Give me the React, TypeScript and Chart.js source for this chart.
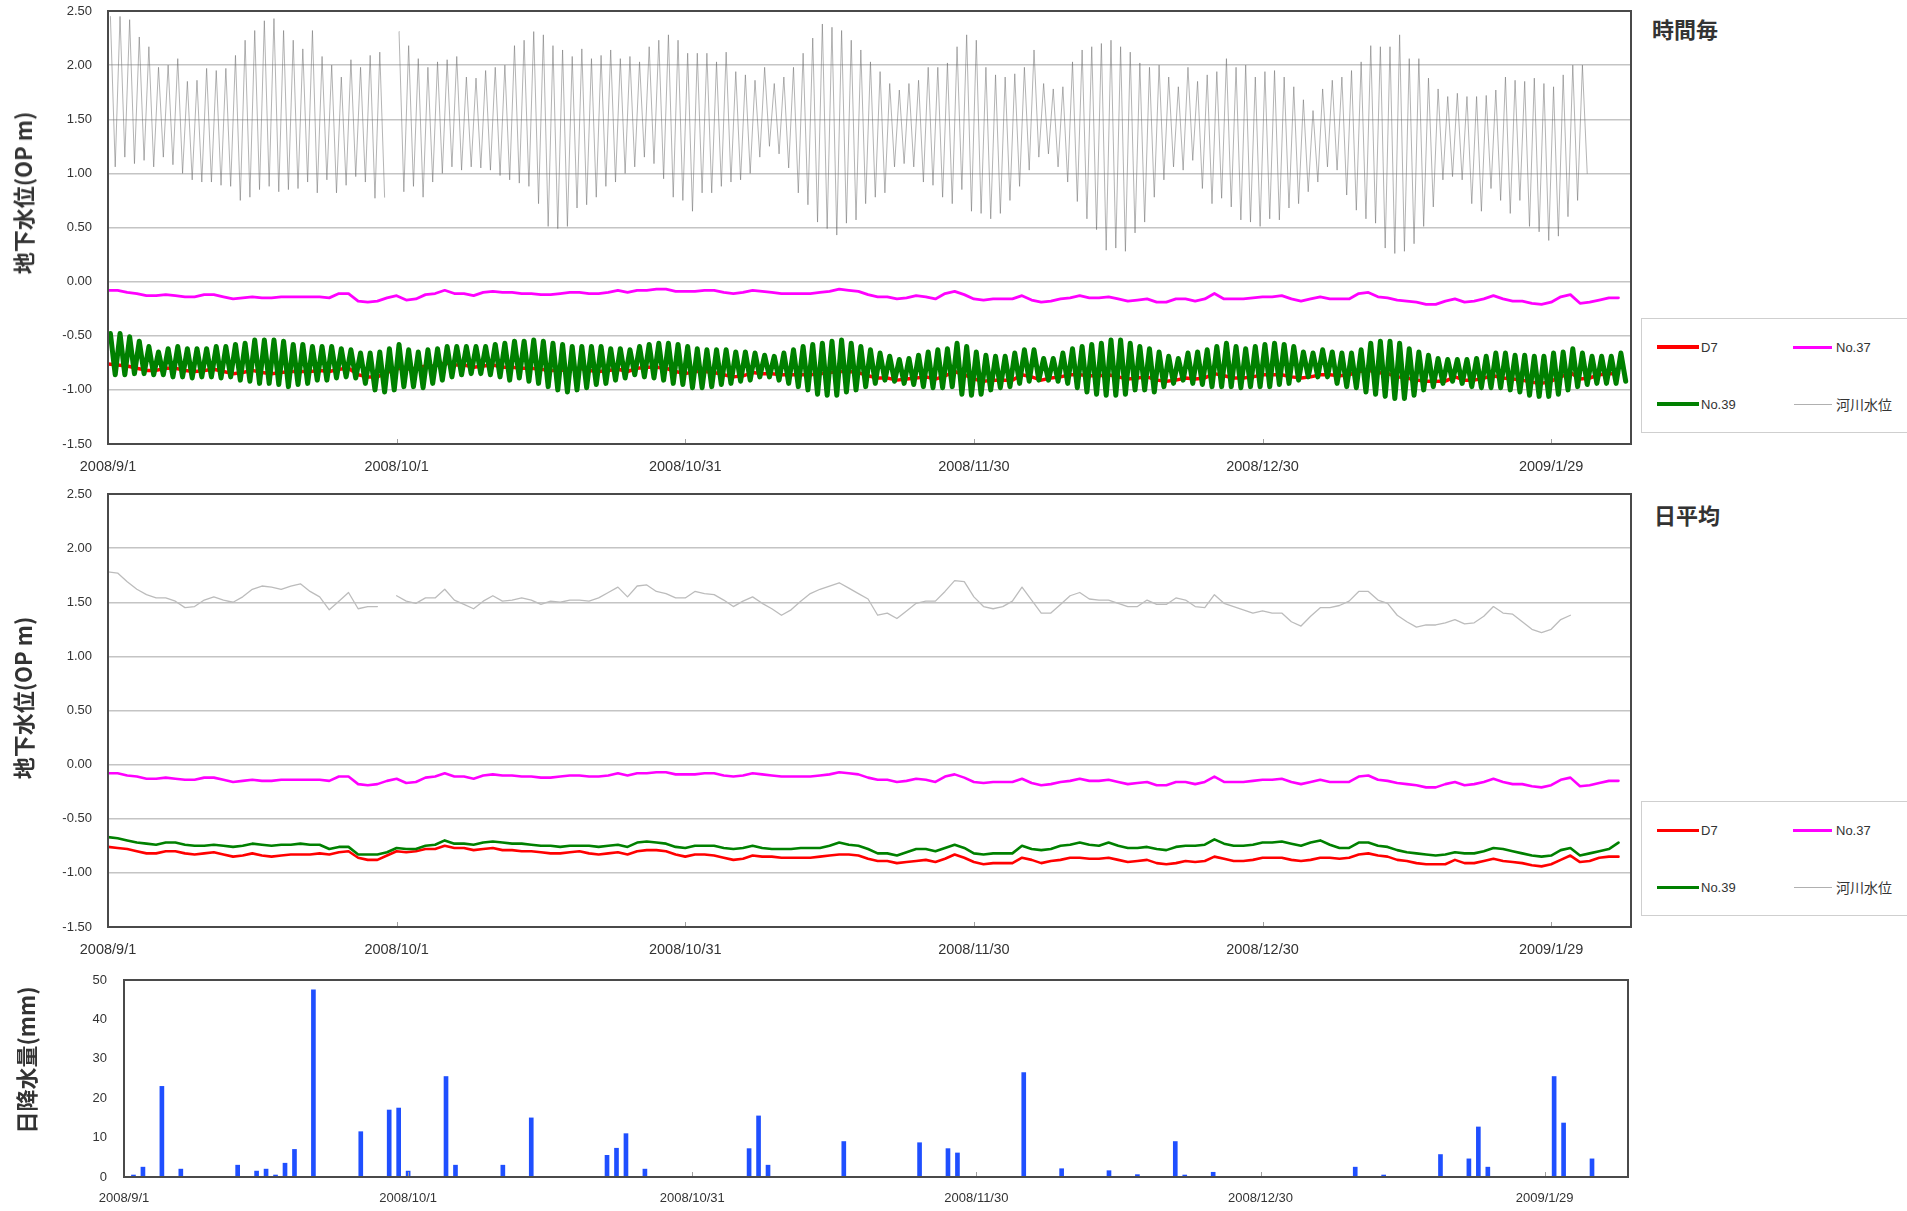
import React, { useEffect, useRef } from 'react';
import { Chart, registerables } from 'chart.js';

Chart.register(...registerables);

// ---------- axis ticks ----------
const tickDays = [0, 30, 60, 90, 120, 150];
const tickLabels = ['2008/9/1', '2008/10/1', '2008/10/31', '2008/11/30', '2008/12/30', '2009/1/29'];

const seriesNames = ['D7', 'No.37', 'No.39', '河川水位'];

// ---------- hourly (時間毎): river tidal daily high / low envelope (day 0 = 2008/9/1) ----------
const riverHigh = [
  2.45, 2.45, 2.42, 2.26, 2.17, 1.98, 2.0, 2.06, 1.85, 1.86,
  1.97, 1.95, 1.97, 2.09, 2.23, 2.32, 2.41, 2.43, 2.32, 2.23,
  2.15, 2.32, 2.08, 2.0, 1.89, 2.05, 1.98, 2.09, 2.12, null,
  2.31, 2.18, 2.06, 1.98, 2.03, 2.05, 2.08, 1.89, 1.88, 1.95,
  1.98, 2.0, 2.18, 2.23, 2.31, 2.28, 2.18, 2.14, 2.08, 2.15,
  2.06, 2.09, 2.14, 2.06, 2.08, 2.03, 2.17, 2.23, 2.28, 2.23,
  2.11, 2.11, 2.11, 2.03, 2.12, 1.94, 1.91, 1.86, 1.98, 1.83,
  1.89, 1.98, 2.11, 2.25, 2.38, 2.35, 2.32, 2.23, 2.14, 2.03,
  1.94, 1.83, 1.77, 1.83, 1.86, 1.98, 1.98, 2.02, 2.17, 2.28,
  2.23, 1.98, 1.91, 1.89, 1.92, 1.98, 2.14, 1.83, 1.78, 1.8,
  2.03, 2.14, 2.17, 2.2, 2.23, 2.17, 2.12, 2.02, 1.98, 2.0,
  1.89, 1.8, 1.98, 1.85, 1.91, 1.94, 2.06, 1.98, 2.0, 1.89,
  1.94, 1.95, 1.89, 1.8, 1.68, 1.58, 1.78, 1.86, 1.89, 1.95,
  2.03, 2.18, 2.17, 2.17, 2.28, 2.06, 2.06, 1.88, 1.78, 1.71,
  1.74, 1.71, 1.71, 1.72, 1.77, 1.89, 1.86, 1.85, 1.88, 1.83,
  1.8, 1.91, 2.0, 2.0,
];
const riverLow = [
  1.06, 1.15, 1.09, 1.12, 1.06, 1.15, 1.08, 1.0, 0.94, 0.92,
  0.92, 0.89, 0.88, 0.75, 0.78, 0.85, 0.88, 0.83, 0.85, 0.86,
  0.92, 0.82, 0.94, 0.82, 0.89, 0.97, 0.92, 0.77, 0.78, null,
  0.83, 0.88, 0.78, 0.92, 1.0, 1.06, 1.03, 1.06, 1.05, 1.03,
  0.98, 0.94, 0.91, 0.88, 0.72, 0.51, 0.49, 0.51, 0.68, 0.71,
  0.78, 0.88, 0.92, 1.0, 1.06, 1.15, 1.09, 0.95, 0.78, 0.75,
  0.65, 0.82, 0.82, 0.88, 0.92, 0.94, 1.0, 1.15, 1.25, 1.18,
  1.05, 0.82, 0.71, 0.55, 0.49, 0.43, 0.54, 0.57, 0.72, 0.78,
  0.82, 1.06, 1.09, 1.06, 0.92, 0.89, 0.78, 0.72, 0.85, 0.65,
  0.63, 0.58, 0.63, 0.75, 0.88, 1.03, 1.15, 1.18, 1.06, 0.92,
  0.74, 0.58, 0.48, 0.29, 0.31, 0.28, 0.45, 0.55, 0.78, 0.94,
  1.06, 1.03, 1.12, 0.86, 0.72, 0.77, 0.69, 0.57, 0.55, 0.51,
  0.58, 0.57, 0.68, 0.72, 0.83, 0.92, 1.06, 1.03, 0.8, 0.66,
  0.58, 0.54, 0.31, 0.26, 0.28, 0.35, 0.51, 0.69, 0.94, 0.97,
  0.94, 0.72, 0.65, 0.86, 0.75, 0.63, 0.75, 0.51, 0.46, 0.38,
  0.42, 0.6, 0.75, 1.0,
];

// No.39 hourly: daily high / low envelope
const no39High = [
  -0.48, -0.48, -0.51, -0.55, -0.6, -0.65, -0.62, -0.6, -0.62, -0.62,
  -0.62, -0.6, -0.6, -0.58, -0.57, -0.54, -0.54, -0.54, -0.55, -0.58,
  -0.58, -0.6, -0.6, -0.6, -0.62, -0.63, -0.66, -0.66, -0.65, -0.62,
  -0.58, -0.63, -0.65, -0.63, -0.62, -0.6, -0.6, -0.6, -0.6, -0.6,
  -0.58, -0.57, -0.55, -0.55, -0.54, -0.55, -0.57, -0.58, -0.6, -0.6,
  -0.6, -0.6, -0.62, -0.62, -0.63, -0.6, -0.58, -0.57, -0.57, -0.58,
  -0.6, -0.62, -0.63, -0.63, -0.63, -0.65, -0.65, -0.66, -0.68, -0.69,
  -0.66, -0.63, -0.6, -0.58, -0.57, -0.55, -0.54, -0.57, -0.6, -0.63,
  -0.66, -0.69, -0.72, -0.71, -0.68, -0.65, -0.63, -0.62, -0.57, -0.6,
  -0.65, -0.68, -0.69, -0.69, -0.66, -0.63, -0.63, -0.71, -0.71, -0.66,
  -0.62, -0.6, -0.58, -0.57, -0.54, -0.54, -0.57, -0.6, -0.62, -0.65,
  -0.69, -0.71, -0.66, -0.65, -0.63, -0.6, -0.57, -0.6, -0.62, -0.6,
  -0.58, -0.57, -0.58, -0.6, -0.65, -0.66, -0.63, -0.65, -0.66, -0.66,
  -0.63, -0.57, -0.55, -0.55, -0.57, -0.62, -0.65, -0.68, -0.71, -0.72,
  -0.72, -0.72, -0.71, -0.69, -0.66, -0.66, -0.68, -0.68, -0.69, -0.69,
  -0.66, -0.65, -0.62, -0.66, -0.69, -0.69, -0.69, -0.66,
];
const no39Low = [
  -0.86, -0.86, -0.85, -0.85, -0.86, -0.86, -0.88, -0.88, -0.89, -0.88,
  -0.88, -0.89, -0.88, -0.91, -0.92, -0.94, -0.94, -0.95, -0.97, -0.95,
  -0.94, -0.91, -0.91, -0.89, -0.88, -0.89, -0.94, -1.0, -1.02, -1.0,
  -0.97, -0.97, -0.98, -0.94, -0.91, -0.88, -0.86, -0.85, -0.85, -0.86,
  -0.88, -0.91, -0.89, -0.92, -0.94, -0.97, -1.0, -1.02, -1.0, -0.98,
  -0.95, -0.94, -0.91, -0.89, -0.86, -0.88, -0.89, -0.91, -0.94, -0.95,
  -0.98, -0.98, -0.97, -0.95, -0.94, -0.92, -0.91, -0.88, -0.88, -0.91,
  -0.94, -0.97, -1.0, -1.04, -1.05, -1.05, -1.02, -1.0, -0.97, -0.94,
  -0.91, -0.92, -0.94, -0.95, -0.97, -0.98, -0.98, -0.97, -1.04, -1.05,
  -1.04, -1.0, -0.98, -0.97, -0.94, -0.92, -0.91, -0.91, -0.92, -0.94,
  -0.98, -1.02, -1.04, -1.05, -1.05, -1.04, -1.0, -1.0, -1.02, -0.97,
  -0.94, -0.91, -0.94, -0.95, -0.97, -0.97, -0.97, -0.98, -0.97, -0.97,
  -0.97, -0.95, -0.94, -0.91, -0.88, -0.88, -0.88, -0.94, -0.97, -0.98,
  -1.02, -1.04, -1.06, -1.08, -1.08, -1.05, -1.0, -0.97, -0.94, -0.92,
  -0.94, -0.97, -0.98, -0.98, -0.98, -1.0, -1.02, -1.05, -1.06, -1.06,
  -1.04, -1.0, -0.97, -0.95, -0.94, -0.94, -0.94, -0.92,
];

// ---------- daily averages (日平均) ----------
const d7Daily = [
  -0.76, -0.77, -0.78, -0.8, -0.82, -0.82, -0.8, -0.8, -0.82, -0.83,
  -0.82, -0.81, -0.83, -0.85, -0.84, -0.82, -0.84, -0.85, -0.84, -0.83,
  -0.83, -0.83, -0.82, -0.83, -0.81, -0.8, -0.86, -0.88, -0.88, -0.84,
  -0.8, -0.81, -0.8, -0.78, -0.78, -0.75, -0.77, -0.77, -0.79, -0.78,
  -0.77, -0.79, -0.79, -0.8, -0.8, -0.81, -0.82, -0.82, -0.81, -0.8,
  -0.82, -0.83, -0.82, -0.81, -0.83, -0.8, -0.79, -0.79, -0.8, -0.83,
  -0.85, -0.83, -0.83, -0.84, -0.86, -0.88, -0.87, -0.84, -0.85, -0.85,
  -0.86, -0.86, -0.86, -0.86, -0.85, -0.84, -0.83, -0.83, -0.84, -0.87,
  -0.89, -0.89, -0.91, -0.9, -0.89, -0.88, -0.9, -0.87, -0.83, -0.86,
  -0.9, -0.92, -0.91, -0.91, -0.91, -0.86, -0.88, -0.91, -0.89, -0.88,
  -0.86, -0.86, -0.87, -0.87, -0.86, -0.88, -0.9, -0.89, -0.88, -0.91,
  -0.92, -0.91, -0.89, -0.9, -0.89, -0.85, -0.87, -0.89, -0.89, -0.88,
  -0.86, -0.86, -0.86, -0.88, -0.89, -0.88, -0.86, -0.86, -0.87, -0.86,
  -0.83, -0.82, -0.84, -0.85, -0.88, -0.89, -0.91, -0.92, -0.92, -0.92,
  -0.88, -0.91, -0.91, -0.89, -0.87, -0.89, -0.9, -0.91, -0.93, -0.94,
  -0.92, -0.88, -0.84, -0.9, -0.89, -0.86, -0.85, -0.85,
];
const no37Daily = [
  -0.08, -0.08, -0.1, -0.11, -0.13, -0.13, -0.12, -0.13, -0.14, -0.14,
  -0.12, -0.12, -0.14, -0.16, -0.15, -0.14, -0.15, -0.15, -0.14, -0.14,
  -0.14, -0.14, -0.14, -0.15, -0.11, -0.11, -0.18, -0.19, -0.18, -0.15,
  -0.13, -0.17, -0.16, -0.12, -0.11, -0.08, -0.11, -0.11, -0.13, -0.1,
  -0.09, -0.1, -0.1, -0.11, -0.11, -0.12, -0.12, -0.11, -0.1, -0.1,
  -0.11, -0.11, -0.1, -0.08, -0.1, -0.08, -0.08, -0.07, -0.07, -0.09,
  -0.09, -0.09, -0.08, -0.08, -0.1, -0.11, -0.1, -0.08, -0.09, -0.1,
  -0.11, -0.11, -0.11, -0.11, -0.1, -0.09, -0.07, -0.08, -0.09, -0.12,
  -0.14, -0.14, -0.16, -0.15, -0.13, -0.14, -0.16, -0.11, -0.09, -0.12,
  -0.16, -0.17, -0.16, -0.16, -0.16, -0.13, -0.17, -0.19, -0.18, -0.16,
  -0.15, -0.13, -0.15, -0.15, -0.14, -0.16, -0.18, -0.17, -0.16, -0.19,
  -0.19, -0.16, -0.16, -0.18, -0.16, -0.11, -0.16, -0.16, -0.16, -0.15,
  -0.14, -0.14, -0.13, -0.16, -0.18, -0.16, -0.14, -0.16, -0.16, -0.16,
  -0.11, -0.1, -0.14, -0.15, -0.17, -0.18, -0.19, -0.21, -0.21, -0.18,
  -0.16, -0.19, -0.18, -0.16, -0.13, -0.16, -0.18, -0.18, -0.2, -0.21,
  -0.19, -0.14, -0.12, -0.2, -0.19, -0.17, -0.15, -0.15,
];
const no39Daily = [
  -0.67, -0.68, -0.7, -0.72, -0.73, -0.74, -0.72, -0.72, -0.74, -0.75,
  -0.75, -0.74, -0.75, -0.76, -0.75, -0.73, -0.74, -0.75, -0.74, -0.74,
  -0.73, -0.74, -0.74, -0.78, -0.76, -0.76, -0.83, -0.83, -0.83, -0.81,
  -0.77, -0.78, -0.78, -0.75, -0.74, -0.7, -0.73, -0.73, -0.74, -0.72,
  -0.71, -0.72, -0.73, -0.73, -0.74, -0.75, -0.75, -0.76, -0.75, -0.75,
  -0.75, -0.76, -0.75, -0.74, -0.76, -0.72, -0.71, -0.72, -0.73, -0.76,
  -0.77, -0.75, -0.75, -0.75, -0.77, -0.78, -0.77, -0.75, -0.77, -0.78,
  -0.78, -0.78, -0.77, -0.77, -0.77, -0.75, -0.72, -0.74, -0.75, -0.78,
  -0.82, -0.82, -0.84, -0.81, -0.78, -0.78, -0.8, -0.77, -0.74, -0.77,
  -0.82, -0.83, -0.82, -0.82, -0.82, -0.75, -0.78, -0.79, -0.78, -0.75,
  -0.74, -0.72, -0.74, -0.75, -0.72, -0.75, -0.77, -0.77, -0.76, -0.78,
  -0.79, -0.76, -0.75, -0.75, -0.74, -0.69, -0.73, -0.75, -0.75, -0.74,
  -0.72, -0.72, -0.71, -0.73, -0.75, -0.72, -0.7, -0.74, -0.77, -0.77,
  -0.72, -0.72, -0.75, -0.76, -0.79, -0.81, -0.82, -0.83, -0.84, -0.83,
  -0.81, -0.82, -0.82, -0.8, -0.77, -0.78, -0.8, -0.82, -0.84, -0.85,
  -0.84, -0.79, -0.77, -0.84, -0.82, -0.8, -0.78, -0.72,
];
const riverDaily = [
  1.78, 1.77, 1.69, 1.62, 1.57, 1.54, 1.54, 1.51, 1.45, 1.46,
  1.52, 1.55, 1.52, 1.5, 1.55, 1.62, 1.65, 1.64, 1.62, 1.65,
  1.67, 1.6, 1.55, 1.43, 1.51, 1.59, 1.44, 1.46, 1.46, null,
  1.56, 1.51, 1.49, 1.54, 1.54, 1.62, 1.52, 1.48, 1.44, 1.51,
  1.56, 1.51, 1.52, 1.54, 1.52, 1.48, 1.51, 1.5, 1.52, 1.52,
  1.51, 1.54, 1.59, 1.64, 1.55, 1.65, 1.66, 1.6, 1.58, 1.54,
  1.54, 1.6, 1.58, 1.57, 1.52, 1.46, 1.51, 1.55, 1.49, 1.44,
  1.38, 1.43, 1.51, 1.58, 1.62, 1.65, 1.68, 1.63, 1.58, 1.53,
  1.38, 1.4, 1.35, 1.42, 1.49, 1.51, 1.51, 1.6, 1.7, 1.69,
  1.55, 1.46, 1.44, 1.46, 1.51, 1.64, 1.52, 1.4, 1.4, 1.48,
  1.56, 1.59, 1.53, 1.52, 1.52, 1.49, 1.46, 1.46, 1.52, 1.48,
  1.48, 1.54, 1.52, 1.46, 1.45, 1.57, 1.49, 1.46, 1.43, 1.4,
  1.42, 1.4, 1.4, 1.32, 1.28, 1.37, 1.45, 1.45, 1.47, 1.51,
  1.6, 1.6, 1.52, 1.49, 1.38, 1.32, 1.27, 1.29, 1.29, 1.31,
  1.34, 1.3, 1.31, 1.37, 1.46, 1.4, 1.39, 1.32, 1.25, 1.22,
  1.25, 1.34, 1.38,
];

// ---------- daily rainfall (日降水量) ----------
const rainDay = [
  1, 2, 4, 6, 12, 14, 15, 16, 17, 18, 20, 25, 28, 29, 30, 34, 35, 40, 43, 51, 52, 53, 55,
  66, 67, 68, 76, 84, 87, 88, 95, 99, 104, 107, 111, 112, 115, 130, 133, 139, 142, 143, 144,
  151, 152, 155,
];
const rainMm = [
  0.5, 2.5, 23, 2, 3, 1.5, 2, 0.5, 3.5, 7, 47.5, 11.5, 17, 17.5, 1.5, 25.5, 3, 3, 15, 5.5, 7.3, 11, 2,
  7.2, 15.5, 3, 9, 8.7, 7.2, 6.1, 26.5, 2.1, 1.6, 0.6, 9, 0.5, 1.2, 2.5, 0.5, 5.7, 4.6, 12.7, 2.5,
  25.5, 13.7, 4.6,
];

// ---------- styling ----------
const LAT = "'Liberation Sans', Arial, sans-serif";
const CJK = "'Noto Sans CJK JP', 'Noto Sans', sans-serif";
const TXT = '#333333';
const C_D7 = '#ff0000';
const C_37 = '#ff00ff';
const C_39 = '#008000';
const C_RIV_H = 'rgba(105,105,105,0.5)';
const C_RIV_D = '#bcbcbc';
const C_RAIN = '#1f4fff';

const dailyPts = (arr: (number | null)[]) => arr.map((v, d) => ({ x: d, y: v }));
const tidalPts = (hi: (number | null)[], lo: (number | null)[]) => {
  const pts: { x: number; y: number | null }[] = [];
  hi.forEach((h, d) => {
    pts.push({ x: d + 0.25, y: h });
    pts.push({ x: d + 0.75, y: lo[d] });
  });
  return pts;
};

const boxPlugin = {
  id: 'boxFrame',
  afterDraw(chart: any) {
    const { ctx, chartArea: a } = chart;
    const xs = chart.scales.x;
    ctx.save();
    ctx.strokeStyle = '#a0a0a0';
    ctx.lineWidth = 1;
    tickDays.forEach((d) => {
      const px = Math.round(xs.getPixelForValue(d)) + 0.5;
      ctx.beginPath();
      ctx.moveTo(px, a.bottom);
      ctx.lineTo(px, a.bottom - 5);
      ctx.stroke();
    });
    ctx.strokeStyle = '#4a4a4a';
    ctx.lineWidth = 2;
    ctx.strokeRect(a.left, a.top, a.right - a.left, a.bottom - a.top);
    ctx.restore();
  },
};

const dayAxis = (max: number, height: number, pad: number, size: number) => ({
  type: 'linear',
  min: 0,
  max,
  offset: false,
  afterBuildTicks: (s: any) => {
    s.ticks = tickDays.map((v) => ({ value: v }));
  },
  ticks: {
    autoSkip: false,
    maxRotation: 0,
    minRotation: 0,
    padding: pad,
    color: TXT,
    font: { family: LAT, size },
    callback: (v: any) => {
      const i = tickDays.indexOf(Number(v));
      return i >= 0 ? tickLabels[i] : '';
    },
  },
  grid: { display: false, drawTicks: false },
  border: { display: false },
  afterFit: (s: any) => {
    s.height = height;
    s.paddingLeft = 0;
    s.paddingRight = 0;
  },
});

const levelAxis = (width: number) => ({
  type: 'linear',
  min: -1.5,
  max: 2.5,
  ticks: {
    stepSize: 0.5,
    padding: 16,
    color: TXT,
    font: { family: LAT, size: 13 },
    callback: (v: any) => Number(v).toFixed(2),
  },
  grid: { color: '#c4c4c4', lineWidth: 1.5, drawTicks: false },
  border: { display: false },
  afterFit: (s: any) => {
    s.width = width;
    s.paddingTop = 0;
    s.paddingBottom = 0;
  },
});

const lineDs = (label: string, data: any[], color: string, width: number, order: number) => ({
  label,
  data,
  borderColor: color,
  backgroundColor: color,
  borderWidth: width,
  borderJoinStyle: 'round',
  borderCapStyle: 'round',
  pointRadius: 0,
  tension: 0,
  spanGaps: false,
  fill: false,
  order,
});

const baseOpts = (padding: any) => ({
  responsive: false,
  maintainAspectRatio: false,
  animation: false,
  devicePixelRatio: 1,
  layout: { padding },
  plugins: { legend: { display: false }, tooltip: { enabled: false }, title: { display: false } },
  events: [],
});

function LegendItem(p: { x1: number; x2: number; y: number; t: number; color: string; tx: number; label: string }) {
  const cjk = /[^\x00-\x7f]/.test(p.label);
  return (
    <>
      <div
        style={{
          position: 'absolute',
          left: p.x1,
          top: p.y - p.t / 2,
          width: p.x2 - p.x1,
          height: p.t,
          background: p.color,
        }}
      />
      <div
        style={{
          position: 'absolute',
          left: p.tx,
          top: p.y,
          transform: 'translateY(-50%)',
          fontFamily: cjk ? CJK : LAT,
          fontSize: cjk ? 14 : 13,
          color: TXT,
          lineHeight: 1,
          whiteSpace: 'nowrap',
        }}
      >
        {p.label}
      </div>
    </>
  );
}

function Legend({ top, bottom, thick }: { top: number; bottom: number; thick: number }) {
  const y1 = top + 29;
  const y2 = bottom - 29;
  return (
    <>
      <div
        style={{
          position: 'absolute',
          left: 1641,
          top,
          width: 320,
          height: bottom - top,
          border: '1.5px solid #cfcfcf',
          boxSizing: 'border-box',
        }}
      />
      <LegendItem x1={1657} x2={1699} y={y1} t={thick} color={C_D7} tx={1701} label={seriesNames[0]} />
      <LegendItem x1={1793} x2={1832} y={y1} t={3} color={C_37} tx={1836} label={seriesNames[1]} />
      <LegendItem x1={1657} x2={1699} y={y2} t={thick} color={C_39} tx={1701} label={seriesNames[2]} />
      <LegendItem x1={1794} x2={1832} y={y2} t={1} color="#b0b0b0" tx={1836} label={seriesNames[3]} />
    </>
  );
}

const vTitle = (text: string, cx: number, cy: number) => (
  <div
    style={{
      position: 'absolute',
      left: cx,
      top: cy,
      transform: 'translate(-50%, -50%) rotate(-90deg)',
      fontFamily: CJK,
      fontSize: 22,
      fontWeight: 700,
      color: TXT,
      whiteSpace: 'nowrap',
      lineHeight: 1,
    }}
  >
    {text}
  </div>
);

const pTitle = (text: string, left: number, cy: number) => (
  <div
    style={{
      position: 'absolute',
      left,
      top: cy,
      transform: 'translateY(-50%)',
      fontFamily: CJK,
      fontSize: 22,
      fontWeight: 700,
      color: TXT,
      whiteSpace: 'nowrap',
      lineHeight: 1,
    }}
  >
    {text}
  </div>
);

export default function App() {
  const c1 = useRef<HTMLCanvasElement>(null);
  const c2 = useRef<HTMLCanvasElement>(null);
  const c3 = useRef<HTMLCanvasElement>(null);

  useEffect(() => {
    const charts: Chart[] = [];

    // hourly chart
    charts.push(
      new Chart(c1.current!, {
        type: 'line',
        data: {
          datasets: [
            lineDs(seriesNames[2], tidalPts(no39High, no39Low), C_39, 5, 0),
            lineDs(seriesNames[0], dailyPts(d7Daily), C_D7, 3.5, 1),
            lineDs(seriesNames[1], dailyPts(no37Daily), C_37, 2.8, 2),
            lineDs(seriesNames[3], tidalPts(riverHigh, riverLow), C_RIV_H, 1, 3),
          ],
        },
        options: {
          ...baseOpts({ top: 11, right: 9, left: 0, bottom: 0 }),
          scales: { x: dayAxis(158.3, 36, 14, 14.5), y: levelAxis(108) },
        } as any,
        plugins: [boxPlugin],
      })
    );

    // daily average chart
    charts.push(
      new Chart(c2.current!, {
        type: 'line',
        data: {
          datasets: [
            lineDs(seriesNames[2], dailyPts(no39Daily), C_39, 2.6, 0),
            lineDs(seriesNames[0], dailyPts(d7Daily), C_D7, 2.6, 1),
            lineDs(seriesNames[1], dailyPts(no37Daily), C_37, 2.6, 2),
            lineDs(seriesNames[3], dailyPts(riverDaily), C_RIV_D, 1.3, 3),
          ],
        },
        options: {
          ...baseOpts({ top: 14, right: 9, left: 0, bottom: 0 }),
          scales: { x: dayAxis(158.3, 33, 14, 14.5), y: levelAxis(108) },
        } as any,
        plugins: [boxPlugin],
      })
    );

    // rainfall chart
    charts.push(
      new Chart(c3.current!, {
        type: 'bar',
        data: {
          datasets: [
            {
              label: '日降水量',
              data: rainDay.map((d, i) => ({ x: d, y: rainMm[i] })),
              backgroundColor: C_RAIN,
              borderWidth: 0,
              barThickness: 4,
            },
          ],
        },
        options: {
          ...baseOpts({ top: 20, right: 12, left: 0, bottom: 0 }),
          scales: {
            x: dayAxis(158.8, 34, 14, 13),
            y: {
              type: 'linear',
              min: 0,
              max: 50,
              ticks: { stepSize: 10, padding: 17, color: TXT, font: { family: LAT, size: 13 } },
              grid: { display: false, drawTicks: false },
              border: { display: false },
              afterFit: (s: any) => {
                s.width = 124;
                s.paddingTop = 0;
                s.paddingBottom = 0;
              },
            },
          },
        } as any,
        plugins: [boxPlugin],
      })
    );

    return () => charts.forEach((c) => c.destroy());
  }, []);

  return (
    <div
      style={{
        position: 'absolute',
        left: 0,
        top: 0,
        width: 1907,
        height: 1211,
        overflow: 'hidden',
        background: '#ffffff',
      }}
    >
      <canvas ref={c1} width={1640} height={480} style={{ position: 'absolute', left: 0, top: 0, width: 1640, height: 480 }} />
      <canvas ref={c2} width={1640} height={480} style={{ position: 'absolute', left: 0, top: 480, width: 1640, height: 480 }} />
      <canvas ref={c3} width={1640} height={251} style={{ position: 'absolute', left: 0, top: 960, width: 1640, height: 251 }} />

      {vTitle('地下水位(OP m)', 22, 193)}
      {vTitle('地下水位(OP m)', 22, 698)}
      {vTitle('日降水量(mm)', 25, 1060)}

      {pTitle('時間毎', 1652, 28)}
      {pTitle('日平均', 1654, 514)}

      <Legend top={318} bottom={433} thick={4.5} />
      <Legend top={801} bottom={916} thick={3} />
    </div>
  );
}
